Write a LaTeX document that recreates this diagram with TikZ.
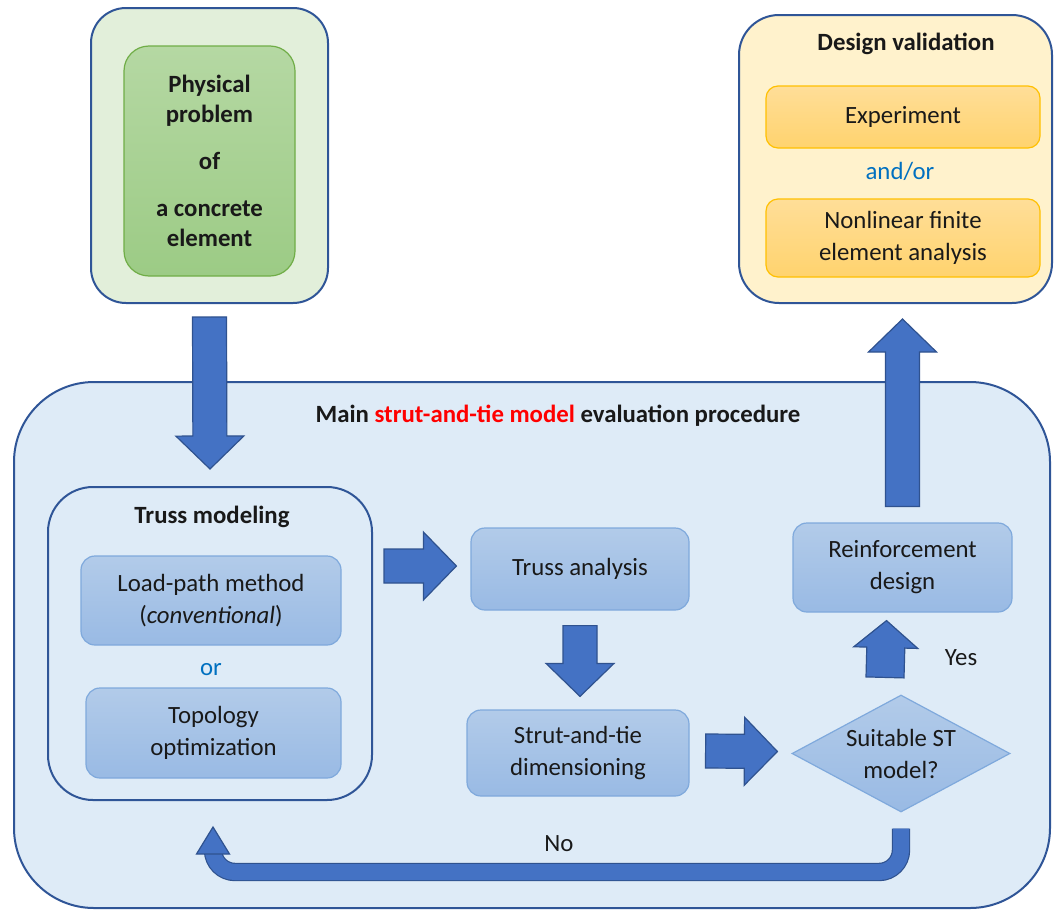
\documentclass[tikz,border=0pt]{standalone}
\usepackage{fontspec}
\setmainfont{Carlito}
\usepackage{xcolor}
\usepackage{tikz}
\usetikzlibrary{shapes}
\usetikzlibrary{shapes.geometric}
\usetikzlibrary{calc}
\usetikzlibrary{positioning}

\definecolor{arrowfill}{HTML}{4472C4}
\definecolor{arrowline}{HTML}{2F528F}
\definecolor{frameline}{HTML}{2F5597}
\definecolor{mainfill}{HTML}{DEEBF7}
\definecolor{greenfill}{HTML}{E2EFDA}
\definecolor{greentop}{HTML}{B5D8A3}
\definecolor{greenbot}{HTML}{9CCB85}
\definecolor{greenline}{HTML}{70AD47}
\definecolor{stepline}{HTML}{7FA9DC}
\definecolor{steptop}{HTML}{B2CBE9}
\definecolor{stepbot}{HTML}{99BAE4}
\definecolor{valfill}{HTML}{FFF2CC}
\definecolor{orangetop}{HTML}{FFDE98}
\definecolor{orangebot}{HTML}{FFD36E}
\definecolor{orangeline}{HTML}{FFC000}
\definecolor{ortext}{HTML}{0070C0}
\definecolor{redtext}{HTML}{FF0000}

\def\bahw{8.5pt}
\def\bahhw{17pt}
\def\bahl{16.5pt}

\tikzset{
  every node/.style={font=\fontsize{12.4}{16}\selectfont, text=black!90},
  frame/.style={rectangle, draw=frameline, line width=1pt, inner sep=0pt},
  stepbox/.style={rectangle, rounded corners=7pt, draw=stepline, line width=0.6pt,
    top color=steptop, bottom color=stepbot, align=center, inner sep=0pt},
  orangebox/.style={rectangle, rounded corners=6pt, draw=orangeline, line width=0.6pt,
    top color=orangetop, bottom color=orangebot, align=center, inner sep=0pt},
  title/.style={font=\fontsize{12.4}{16}\selectfont\bfseries},
  choice/.style={text=ortext},
  blockarrow/.style={draw=arrowline, fill=arrowfill, line width=0.6pt,
    to path={
      ($(\tikztotarget)!\bahl!(\tikztostart)$) coordinate (ba-base)
      ($(\tikztostart)!\bahw!90:(\tikztotarget)$)
      -- ($(ba-base)!\bahw!-90:(\tikztostart)$)
      -- ($(ba-base)!\bahhw!-90:(\tikztostart)$)
      -- (\tikztotarget)
      -- ($(ba-base)!\bahhw!90:(\tikztostart)$)
      -- ($(ba-base)!\bahw!90:(\tikztostart)$)
      -- ($(\tikztostart)!\bahw!-90:(\tikztotarget)$)
      -- cycle}},
}

\begin{document}
\begin{tikzpicture}[x=0.5pt, y=-0.5pt]
  \useasboundingbox (0,0) rectangle (1054,910);

  % outer frames
  \node[frame, fill=greenfill, rounded corners=17.5pt, minimum width=118.5pt, minimum height=147.5pt] (physout) at (209.5,155.5) {};
  \node[frame, fill=valfill, rounded corners=20pt, minimum width=156.5pt, minimum height=144pt] (valout) at (895.5,159) {};
  \node[frame, fill=mainfill, rounded corners=40pt, minimum width=518pt, minimum height=263pt] (main) at (532,645) {};
  \node[frame, fill=mainfill, rounded corners=22.5pt, minimum width=162pt, minimum height=156.5pt] (tm) at (210,643.5) {};

  % physical problem
  \node[rectangle, rounded corners=12.5pt, draw=greenline, line width=0.6pt, top color=greentop, bottom color=greenbot,
    minimum width=85.5pt, minimum height=115pt, align=center, font=\fontsize{12.4}{15}\selectfont\bfseries] (phys) at (209.5,161)
    {Physical\\problem\\[8.5pt]of\\[8.5pt]a concrete\\element};

  % design validation
  \node[title] (valtitle) at (906,44) {Design validation};
  \node[orangebox, minimum width=137pt, minimum height=31pt] (exp) at (903,117) {Experiment};
  \node[choice] (andor) at (900,171) {and/or};
  \node[orangebox, minimum width=137pt, minimum height=39pt] (nfea) at (903,238) {Nonlinear finite\\element analysis};

  % main procedure
  \node[title] (maintitle) at (558,416) {Main \textcolor{redtext}{strut-and-tie model} evaluation procedure};
  \node[title] (tmtitle) at (212,517) {Truss modeling};
  \node[stepbox, minimum width=130pt, minimum height=44.5pt] (lpm) at (211,600.5) {Load-path method\\(\textit{conventional})};
  \node[choice] (or) at (211,670) {or};
  \node[stepbox, minimum width=127.5pt, minimum height=45pt] (topo) at (213.5,733) {Topology\\optimization};
  \node[stepbox, minimum width=109pt, minimum height=41pt] (ta) at (580,569) {Truss analysis};
  \node[stepbox, minimum width=111pt, minimum height=43pt] (sd) at (578,753) {Strut-and-tie\\dimensioning};
  \node[diamond, draw=stepline, line width=0.6pt, top color=steptop, bottom color=stepbot, align=center,
    inner sep=0pt, aspect=1.86, minimum width=109pt, minimum height=58.5pt] (suit) at (901,753.5) {Suitable ST\\model?};
  \node[stepbox, minimum width=109.5pt, minimum height=44.5pt] (rd) at (902.5,567.5) {Reinforcement\\design};
  \node (yes) at (961,658) {Yes};
  \node (no) at (559,844) {No};

  % block arrows
  \draw[blockarrow] ([yshift=-6.5pt]physout.south) to ([yshift=8.5pt]tm.north);
  \draw[blockarrow] ($(tm.east |- ta.west)+(11,-3)$) to ($(ta.west)+(-14,-3)$);
  \draw[blockarrow] ([yshift=-7.5pt]ta.south) to ([yshift=6.5pt]ta.south |- sd.north);
  \draw[blockarrow] ($(sd.east)+(16,-2)$) to ($(suit.west)+(-14,-2)$);
  \begingroup
  \def\bahw{9.5pt}\def\bahhw{16pt}\def\bahl{13.5pt}
  \draw[blockarrow] ([xshift=-8pt,yshift=8.5pt]suit.north) to ([xshift=-8pt,yshift=-4pt]rd.south);
  \endgroup
  \draw[blockarrow] ([yshift=8pt]rd.north) to ([yshift=-7.5pt]rd.north |- valout.south);

  % feedback arrow
  \draw[draw=arrowline, line width=0.6pt, double=arrowfill, double distance=8pt, rounded corners=11pt]
    ([yshift=-8pt]suit.south) |- ($(tm.south)+(3,71)$) -- ($(tm.south)+(3,52)$);
  \draw[draw=arrowline, fill=arrowfill, line width=0.6pt]
    ($(tm.south)+(-13.5,53)$) -- ($(tm.south)+(19.5,53)$) -- ($(tm.south)+(3,26)$) -- cycle;
\end{tikzpicture}
\end{document}
